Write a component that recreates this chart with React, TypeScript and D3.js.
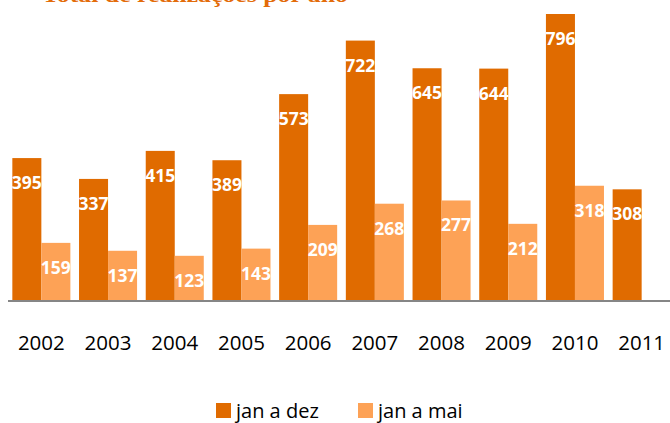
import React from "react";
import * as d3 from "d3";

const years = ["2002", "2003", "2004", "2005", "2006", "2007", "2008", "2009", "2010", "2011"];
const seriesNames = ["jan a dez", "jan a mai"];
const janDez: (number | null)[] = [395, 337, 415, 389, 573, 722, 645, 644, 796, 308];
const janMai: (number | null)[] = [159, 137, 123, 143, 209, 268, 277, 212, 318, null];
const colors = ["#E06B00", "#FDA256"];
const title = "Total de realizações por ano";

const W = 670;
const H = 423;
const baseY = 300;
const topY = 14;

export default function App() {
  const x0 = d3.scaleBand<string>().domain(years).range([8, 675]).paddingInner(0.13).paddingOuter(0.065);
  const x1 = d3.scaleBand<string>().domain(seriesNames).range([0, x0.bandwidth()]);
  const y = d3.scaleLinear().domain([0, 796]).range([baseY, topY]);
  const series = [janDez, janMai];
  const font = "'Open Sans', sans-serif";

  return (
    <svg width={W} height={H} style={{ position: "absolute", left: 0, top: 0 }}>
      <text x={42} y={1.5} fontFamily="'Liberation Serif', serif" fontWeight="bold" fontSize={21} fill="#E36C0A" textLength={306} lengthAdjust="spacingAndGlyphs">
        {title}
      </text>
      {years.map((yr, i) => (
        <g key={yr} transform={`translate(${x0(yr)},0)`}>
          {series.map((s, j) => {
            const v = s[i];
            if (v == null) return null;
            const bx = x1(seriesNames[j])!;
            return (
              <g key={j}>
                <rect x={bx} y={y(v)} width={x1.bandwidth()} height={baseY - y(v)} fill={colors[j]} />
                <text
                  x={bx + x1.bandwidth() / 2}
                  y={y(v) + 31}
                  textAnchor="middle"
                  fontFamily={font}
                  fontWeight="bold"
                  fontSize={17.5}
                  fill="#ffffff"
                >
                  {v}
                </text>
              </g>
            );
          })}
        </g>
      ))}
      <line x1={8} x2={W} y1={baseY + 1} y2={baseY + 1} stroke="#868686" strokeWidth={2} />
      {years.map((yr) => (
        <text key={yr} x={x0(yr)! + x0.bandwidth() / 2} y={350} textAnchor="middle" fontFamily={font} fontSize={20.5} fill="#000">
          {yr}
        </text>
      ))}
      {seriesNames.map((n, j) => {
        const lx = j === 0 ? 216 : 358;
        return (
          <g key={n}>
            <rect x={lx} y={403} width={15} height={15} fill={colors[j]} />
            <text x={lx + 20} y={418} fontFamily={font} fontSize={20} fill="#000">
              {n}
            </text>
          </g>
        );
      })}
    </svg>
  );
}
